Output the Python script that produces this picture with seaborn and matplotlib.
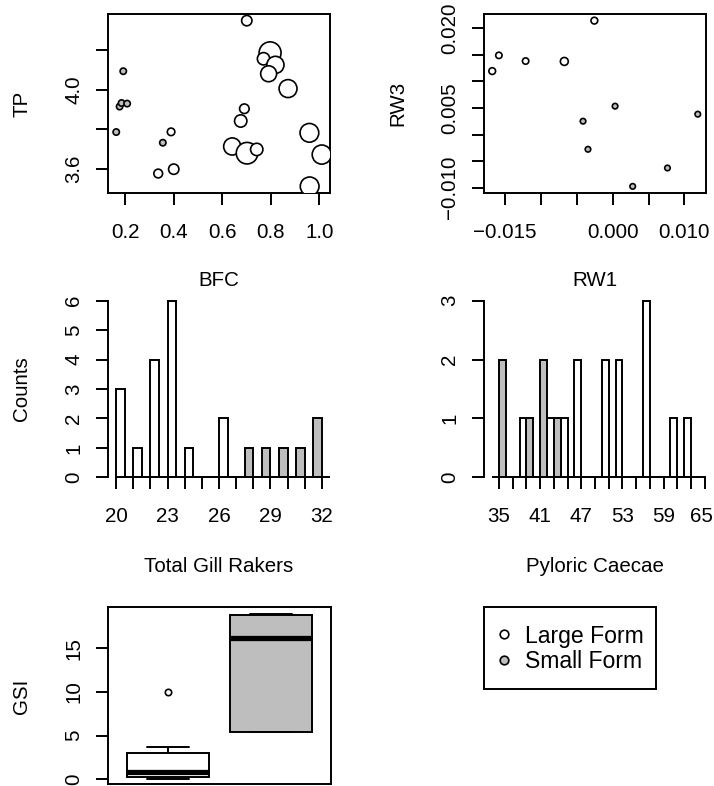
import numpy as np
import pandas as pd
import matplotlib
matplotlib.use("Agg")
import matplotlib.pyplot as plt
import matplotlib.transforms as mtransforms
from matplotlib.lines import Line2D
from matplotlib.patches import Rectangle
import seaborn as sns

# ---------------------------------------------------------------- data
FORMS = ["Large Form", "Small Form"]
FORM_COLORS = {"Large Form": "white", "Small Form": "#BEBEBE"}

# body-form coefficient (BFC) vs. trophic position (TP)
bfc = [0.701, 0.797, 0.770, 0.819, 0.791, 0.871, 0.691, 0.676, 0.389,
       0.641, 0.702, 0.742, 0.959, 1.010, 0.960, 0.336, 0.400,
       0.192, 0.177, 0.185, 0.208, 0.163, 0.355]
tp = [4.349, 4.186, 4.156, 4.125, 4.080, 4.005, 3.903, 3.841, 3.786,
      3.712, 3.678, 3.697, 3.781, 3.671, 3.510, 3.575, 3.597,
      4.093, 3.914, 3.932, 3.929, 3.785, 3.731]
tp_cex = [1.5, 2.95, 1.75, 2.35, 2.2, 2.45, 1.4, 1.75, 1.15,
          2.35, 2.9, 1.75, 2.55, 2.6, 2.55, 1.3, 1.5,
          1.0, 1.0, 1.0, 1.0, 1.0, 1.0]
tp_form = ["Large Form"] * 17 + ["Small Form"] * 6

# relative warps RW1 vs RW3
rw1 = [-0.01681, -0.01588, -0.01215, -0.00675, -0.00256,
       -0.00414, -0.00345, 0.00033, 0.00279, 0.00764, 0.01187]
rw3 = [0.01195, 0.01491, 0.01384, 0.01377, 0.02145,
       0.00252, -0.00277, 0.00535, -0.00975, -0.00629, 0.00384]
rw_cex = [1.05, 1.0, 1.0, 1.2, 1.05, 0.9, 0.9, 0.9, 0.9, 0.9, 0.9]
rw_form = ["Large Form"] * 5 + ["Small Form"] * 6

# total gill rakers: counts per raker number
gill_large_bins = list(range(20, 33))
gill_large = [3, 1, 4, 6, 1, 0, 2, 0, 0, 0, 0, 0, 0]
gill_small_bins = list(range(20, 32))
gill_small = [0, 0, 0, 0, 0, 0, 0, 1, 1, 1, 1, 2]
gill_ticks = list(range(20, 33))
gill_labels = [str(t) if (t - 20) % 3 == 0 else "" for t in gill_ticks]

# pyloric caecae: counts per 2-caeca class
pc_bins = list(range(34, 64, 2))
pc_large = [0, 0, 1, 0, 1, 1, 2, 0, 2, 2, 0, 3, 0, 1, 1]
pc_small = [2, 0, 1, 2, 1, 0, 0, 0, 0, 0, 0, 0, 0, 0, 0]
pc_ticks = list(range(35, 66, 2))
pc_labels = [str(t) if (t - 35) % 6 == 0 else "" for t in pc_ticks]

# gonadosomatic index
gsi_large = [0.0, 0.1, 0.23, 0.5, 0.81, 2.0, 3.05, 3.74, 10.04]
gsi_small = [5.42, 5.42, 16.18, 18.78, 18.97]

tp_xticks = [0.2, 0.4, 0.6, 0.8, 1.0]
tp_xlabels = ["0.2", "0.4", "0.6", "0.8", "1.0"]
tp_yticks = [3.6, 3.8, 4.0, 4.2]
tp_ylabels = ["3.6", "", "4.0", ""]
rw1_ticks = [-0.015, -0.010, -0.005, 0.0, 0.005, 0.010]
rw1_labels = ["\u22120.015", "", "", "0.000", "", "0.010"]
rw3_ticks = [-0.010, -0.005, 0.0, 0.005, 0.010, 0.015, 0.020]
rw3_labels = ["\u22120.010", "", "", "0.005", "", "", "0.020"]
gsi_ticks = [0, 5, 10, 15]
gsi_labels = ["0", "5", "10", "15"]

# ---------------------------------------------------------------- style
sns.set_theme(style="ticks")
plt.rcParams.update({
    "font.family": ["Liberation Sans", "DejaVu Sans"],
    "axes.edgecolor": "black",
    "axes.linewidth": 1.4,
    "text.color": "black",
    "axes.labelcolor": "black",
    "xtick.color": "black",
    "ytick.color": "black",
    "ytick.alignment": "center",
    "axes.labelsize": 14.8,
})

W, H = 714, 786
LW = 1.4          # line width of boxes / bars (pt)
MLW = 1.2         # marker edge width (pt)
TICK_FS = 14.8
fig = plt.figure(figsize=(W / 100, H / 100), dpi=100)


def axes_px(l, t, r, b):
    return fig.add_axes([l / W, 1 - b / H, (r - l) / W, (b - t) / H])


def padded(v, f=0.04):
    lo, hi = min(v), max(v)
    p = (hi - lo) * f
    return lo - p, hi + p


def style_ticks(ax):
    ax.tick_params(axis="x", direction="out", length=8.9, width=LW,
                   pad=12.5, labelsize=TICK_FS)
    ax.tick_params(axis="y", direction="out", length=8.9, width=LW,
                   pad=8.9, labelsize=TICK_FS, labelrotation=90)


def place_labels(ax, xlabel, xpos, ylabel, ypos):
    if xlabel:
        ax.set_xlabel(xlabel, va="center", fontsize=14.8)
        ax.xaxis.set_label_coords(xpos[0] / W, 1 - xpos[1] / H,
                                  transform=fig.transFigure)
    else:
        ax.set_xlabel("")
    if ylabel:
        ax.set_ylabel(ylabel, va="center", fontsize=14.8)
        ax.yaxis.set_label_coords(ypos[0] / W, 1 - ypos[1] / H,
                                  transform=fig.transFigure)
    else:
        ax.set_ylabel("")


def marker_area(cex, base_px=4.0):
    # cex scales the outer radius of the circle symbol
    r_px = np.asarray(cex) * base_px - MLW * 100 / 72 / 2
    return (2 * r_px * 0.72) ** 2


# ---------------------------------------------------------------- BFC / TP
ax1 = axes_px(108, 14, 330, 193)
tp_df = pd.DataFrame({"BFC": bfc, "TP": tp, "form": tp_form,
                      "area": marker_area(tp_cex)})
a_rng = (tp_df["area"].min(), tp_df["area"].max())
sns.scatterplot(data=tp_df, x="BFC", y="TP", hue="form", hue_order=FORMS,
                palette=FORM_COLORS, size="area", sizes=a_rng,
                size_norm=a_rng, edgecolor="black", linewidth=MLW,
                legend=False, ax=ax1, zorder=3)
ax1.set_xlim(*padded(bfc))
ax1.set_ylim(*padded(tp))
ax1.set_xticks(tp_xticks, tp_xlabels)
ax1.set_yticks(tp_yticks, tp_ylabels)
style_ticks(ax1)
place_labels(ax1, "BFC", (219, 280), "TP", (22, 103.5))

# ---------------------------------------------------------------- RW1 / RW3
ax2 = axes_px(484, 14, 706, 193)
rw_df = pd.DataFrame({"RW1": rw1, "RW3": rw3, "form": rw_form,
                      "area": marker_area(rw_cex)})
a_rng = (rw_df["area"].min(), rw_df["area"].max())
sns.scatterplot(data=rw_df, x="RW1", y="RW3", hue="form", hue_order=FORMS,
                palette=FORM_COLORS, size="area", sizes=a_rng,
                size_norm=a_rng, edgecolor="black", linewidth=MLW,
                legend=False, ax=ax2, zorder=3)
ax2.set_xlim(*padded(rw1))
ax2.set_ylim(*padded(rw3))
ax2.set_xticks(rw1_ticks, rw1_labels)
ax2.set_yticks(rw3_ticks, rw3_labels)
style_ticks(ax2)
place_labels(ax2, "RW1", (595, 280), "RW3", (398, 103.5))


# ---------------------------------------------------------------- histograms
def paired_bars(ax, large_bins, large, small_bins, small, width):
    # each class is split in two halves: large form left, small form right
    half = width / 2
    ax.bar(large_bins, large, width=half, align="edge",
           color=FORM_COLORS["Large Form"], edgecolor="black", linewidth=LW)
    ax.bar([b + half for b in small_bins], small, width=half, align="edge",
           color=FORM_COLORS["Small Form"], edgecolor="black", linewidth=LW)
    for s in ("top", "right"):
        ax.spines[s].set_visible(False)
    ax.spines["bottom"].set_position(("data", 0))


ax3 = axes_px(108, 293.6, 330, 484.4)
paired_bars(ax3, gill_large_bins, gill_large, gill_small_bins, gill_small, 1.0)
ax3.set_xlim(*padded(gill_ticks))
ax3.set_ylim(*padded([0, max(gill_large + gill_small)]))
ax3.set_xticks(gill_ticks, gill_labels)
ax3.set_yticks(range(0, 7))
ax3.spines["left"].set_bounds(0, 6)
ax3.spines["bottom"].set_bounds(20, 32)
style_ticks(ax3)
place_labels(ax3, "Total Gill Rakers", (219, 566.8), "Counts", (22, 389))

ax4 = axes_px(484, 293.6, 706, 484.4)
paired_bars(ax4, pc_bins, pc_large, pc_bins, pc_small, 2.0)
ax4.set_xlim(*padded([pc_bins[0], pc_bins[-1] + 2]))
ax4.set_ylim(*padded([0, max(pc_large + pc_small)]))
ax4.set_xticks(pc_ticks, pc_labels)
ax4.set_yticks(range(0, 4))
ax4.spines["left"].set_bounds(0, 3)
ax4.spines["bottom"].set_bounds(35, 65)
style_ticks(ax4)
# keep the last label inside the figure edge
last = ax4.get_xticklabels()[-1]
last.set_transform(last.get_transform() +
                   mtransforms.ScaledTranslation(-3 / 100, 0,
                                                 fig.dpi_scale_trans))
place_labels(ax4, "Pyloric Caecae", (595, 566.8), "", None)

# ---------------------------------------------------------------- GSI boxplot
ax5 = axes_px(108, 607, 331, 784)
gsi_df = pd.DataFrame({
    "form": ["Large Form"] * len(gsi_large) + ["Small Form"] * len(gsi_small),
    "GSI": gsi_large + gsi_small,
})
sns.boxplot(data=gsi_df, x="form", y="GSI", hue="form", order=FORMS,
            hue_order=FORMS, palette=FORM_COLORS, saturation=1, width=0.8,
            linecolor="black", linewidth=LW, legend=False, ax=ax5,
            medianprops={"linewidth": 3.8},
            flierprops={"marker": "o", "markerfacecolor": "white",
                        "markeredgecolor": "black", "markersize": 4.6,
                        "markeredgewidth": MLW})
ax5.set_xlim(-0.58, 1.58)
ax5.set_ylim(-0.55, padded(gsi_large + gsi_small)[1])
ax5.set_yticks(gsi_ticks, gsi_labels)
ax5.set_xticks([])
style_ticks(ax5)
place_labels(ax5, "", None, "GSI", (22, 696.5))

# ---------------------------------------------------------------- legend
ax6 = axes_px(484, 607, 706, 784)
ax6.axis("off")
handles = [Line2D([], [], marker="o", linestyle="none",
                  markerfacecolor=FORM_COLORS[f], markeredgecolor="black",
                  markeredgewidth=MLW, markersize=6.2) for f in FORMS]
leg = ax6.legend(handles, FORMS, loc="upper left",
                 bbox_to_anchor=(483.7 / W, 1 - 613.0 / H),
                 bbox_transform=fig.transFigure, borderaxespad=0,
                 frameon=False, fontsize=16.6, borderpad=0.5,
                 handlelength=0.76, handletextpad=0.53, labelspacing=0.12)
# square legend box drawn around the entries
fig.patches.append(Rectangle((483.7 / W, 1 - 689 / H),
                             (656 - 483.7) / W, (689 - 607.3) / H,
                             transform=fig.transFigure, fill=False,
                             edgecolor="black", linewidth=LW))

fig.savefig("out.png", dpi=100)
